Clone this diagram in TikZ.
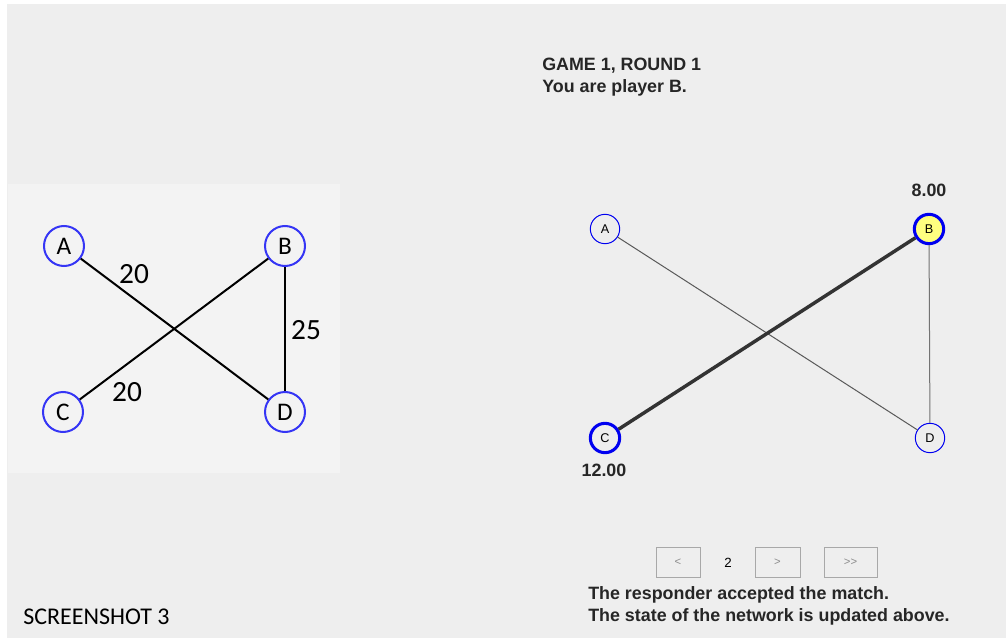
\documentclass[tikz,border=0pt]{standalone}
\usepackage{fontspec}
\setmainfont{Liberation Sans}
\newfontfamily\calfont{Carlito}
\usepackage{tikz}
\usetikzlibrary{positioning,calc}

\definecolor{pagebg}{HTML}{EEEEEE}
\definecolor{panelbg}{HTML}{F3F3F3}
\definecolor{leftblue}{HTML}{3535F5}
\definecolor{netblue}{HTML}{0000F0}
\definecolor{selyellow}{HTML}{FFFF80}
\definecolor{btngray}{HTML}{A8A8A8}

\tikzset{
  player/.style={circle,draw=leftblue,line width=1.5pt,fill=panelbg,minimum size=30pt,inner sep=0pt,font=\calfont\fontsize{19}{19}\selectfont},
  netnode/.style={circle,draw=netblue,line width=0.75pt,fill=pagebg,minimum size=22pt,inner sep=0pt,font=\fontsize{9.5}{10}\selectfont},
  netsel/.style={netnode,line width=2.3pt},
  weight/.style={inner sep=0.75pt,font=\calfont\fontsize{22}{22}\selectfont},
  infotext/.style={inner sep=0.75pt,anchor=west,font=\bfseries\fontsize{13.4}{14}\selectfont,text=black!85},
  navbox/.style={draw=btngray,line width=0.75pt,fill=pagebg,minimum height=22pt,inner sep=0pt,text=black!45,font=\fontsize{8.5}{9}\selectfont}
}

\begin{document}
\begin{tikzpicture}[x=0.75pt,y=0.75pt,yscale=-1,xscale=1]
\path[use as bounding box] (0,0) rectangle (1006,638);
\fill[white] (0,0) rectangle (1006,638);
\fill[pagebg] (7,4) rectangle (1006,638);
%Left panel
\fill[panelbg] (8,184) rectangle (340,473);

% Left graph nodes
\node[player] (lA) at (64,246) {A};
\node[player] (lB) at (285,246) {B};
\node[player] (lC) at (63,412) {C};
\node[player] (lD) at (285,412) {D};
% Left graph edges
\draw[line width=1.5pt] (lA) -- (lD);
\draw[line width=1.5pt] (lC) -- (lB);
\draw[line width=1.5pt] (lB) -- (lD);
% Text Node
\node[weight] (wAD) at (134,274) {20};
% Text Node
\node[weight] (wBD) at (306,330) {25};
% Text Node
\node[weight] (wBC) at (127,392) {20};

% Text Node
\node[inner sep=0.75pt,anchor=west,font=\calfont\fontsize{18}{18}\selectfont] (shot) at (22,617) {SCREENSHOT 3};

% Text Node
\node[infotext] (game) at (541,66) {GAME 1, ROUND 1};
% Text Node
\node[infotext] (you) at (541,88) {You are player B.};

% Network nodes
\node[netnode] (nA) at (605,229) {A};
\node[netsel,fill=selyellow] (nB) at (929,229) {B};
\node[netsel] (nC) at (605,438) {C};
\node[netnode] (nD) at (930,438) {D};
% Network edges
\draw[black!65,line width=0.75pt] (nA) -- (nD);
\draw[black!55,line width=0.75pt] (nB) -- (nD);
\draw[black!80,line width=2.6pt] (nC) -- (nB);
% Text Node
\node[infotext,anchor=center] (payB) at (929,190) {8.00};
% Text Node
\node[infotext,anchor=center] (payC) at (604,470) {12.00};

% Navigation
\node[navbox,minimum width=33pt] (prev) at (678,562.5) {<};
\node[inner sep=0.75pt,font=\fontsize{10}{10}\selectfont] (page) at (728,562.5) {2};
\node[navbox,minimum width=33.75pt] (next) at (777.5,562.5) {>};
\node[navbox,minimum width=39.75pt] (last) at (850.5,562.5) {{>}{>}};

% Text Node
\node[infotext] (msg1) at (587,595) {The responder accepted the match.};
% Text Node
\node[infotext] (msg2) at (587,617) {The state of the network is updated above.};
\end{tikzpicture}
\end{document}
